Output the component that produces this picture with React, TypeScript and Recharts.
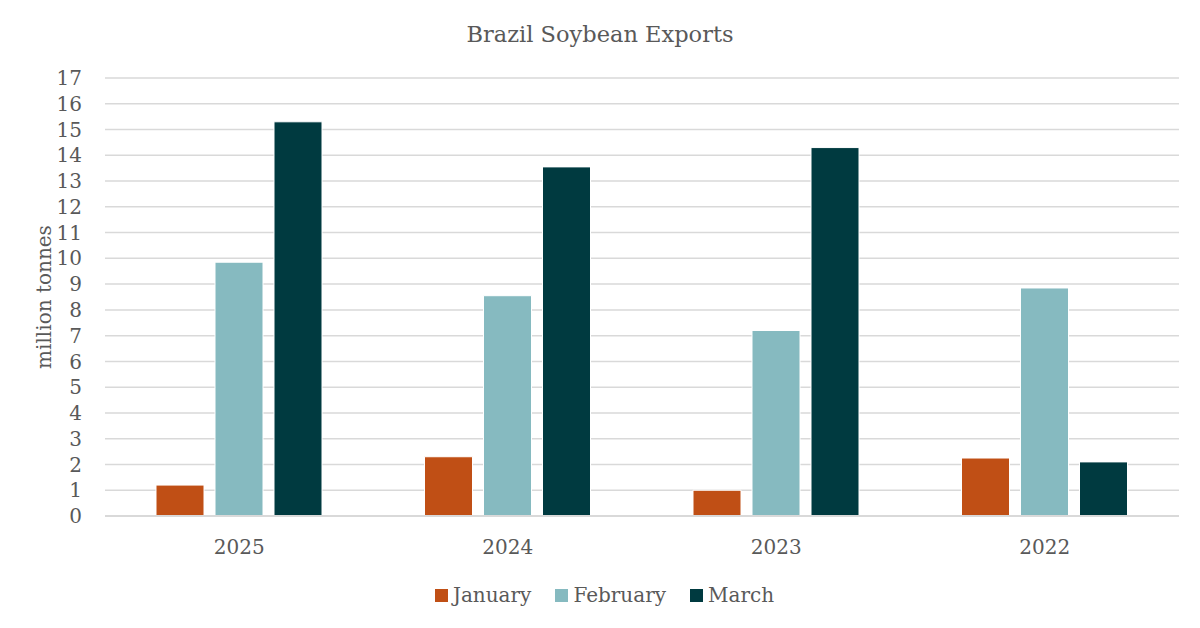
import { BarChart, Bar, XAxis, YAxis, CartesianGrid, Legend } from 'recharts';

const years = ['2025', '2024', '2023', '2022'];
const january = [1.2, 2.3, 1.0, 2.25];
const february = [9.85, 8.55, 7.2, 8.85];
const march = [15.3, 13.55, 14.3, 2.1];
const yTicks = [0, 1, 2, 3, 4, 5, 6, 7, 8, 9, 10, 11, 12, 13, 14, 15, 16, 17];

const seriesNames = ['January', 'February', 'March'];
const seriesColors = ['#C04F15', '#86BAC0', '#003A40'];

const data = years.map((year, i) => ({
  year,
  January: january[i],
  February: february[i],
  March: march[i],
}));

const FONT = '"DejaVu Serif", "Liberation Serif", serif';
const TEXT = '#595959';

const LegendContent = () => (
  <div
    style={{
      display: 'flex',
      justifyContent: 'center',
      paddingLeft: 30,
      height: 25,
      lineHeight: '25px',
      fontFamily: FONT,
      fontSize: 20,
      color: TEXT,
    }}
  >
    {seriesNames.map((name, i) => (
      <div key={name} style={{ display: 'flex', alignItems: 'center', marginRight: i < 2 ? 24 : 0 }}>
        <span style={{ width: 13, height: 13, background: seriesColors[i], display: 'inline-block', marginRight: 5 }} />
        <span>{name}</span>
      </div>
    ))}
  </div>
);

export default function App() {
  return (
    <div style={{ position: 'absolute', left: 0, top: 0, width: 1200, height: 628, background: '#fff' }}>
      <div style={{ position: 'absolute', top: 21, width: 1200, textAlign: 'center', fontFamily: FONT, fontSize: 22.5, color: TEXT }}>
        Brazil Soybean Exports
      </div>
      <div
        style={{
          position: 'absolute',
          left: 44,
          top: 297,
          transform: 'translate(-50%, -50%) rotate(-90deg)',
          whiteSpace: 'nowrap',
          fontFamily: FONT,
          fontSize: 20,
          color: TEXT,
        }}
      >
        million tonnes
      </div>
      <BarChart
        width={1200}
        height={628}
        data={data}
        margin={{ top: 78, right: 21, left: 0, bottom: 0 }}
        barSize={48}
        barGap={11}
        style={{ position: 'absolute', left: 0, top: 0 }}
      >
        <CartesianGrid vertical={false} stroke="#d9d9d9" strokeWidth={1.5} />
        <XAxis
          dataKey="year"
          height={87}
          tickLine={false}
          axisLine={{ stroke: '#d9d9d9', strokeWidth: 2 }}
          tickSize={0}
          tickMargin={24}
          tick={{ fill: TEXT, fontFamily: FONT, fontSize: 20 }}
        />
        <YAxis
          width={105}
          domain={[0, 17]}
          ticks={yTicks}
          interval={0}
          tickLine={false}
          axisLine={false}
          tickSize={0}
          tickMargin={23}
          tick={{ fill: TEXT, fontFamily: FONT, fontSize: 20 }}
        />
        <Legend verticalAlign="bottom" align="center" wrapperStyle={{ bottom: 20 }} content={LegendContent} />
        {seriesNames.map((name, i) => (
          <Bar key={name} dataKey={name} fill={seriesColors[i]} stroke="#ffffff" strokeWidth={1} isAnimationActive={false} />
        ))}
      </BarChart>
    </div>
  );
}
